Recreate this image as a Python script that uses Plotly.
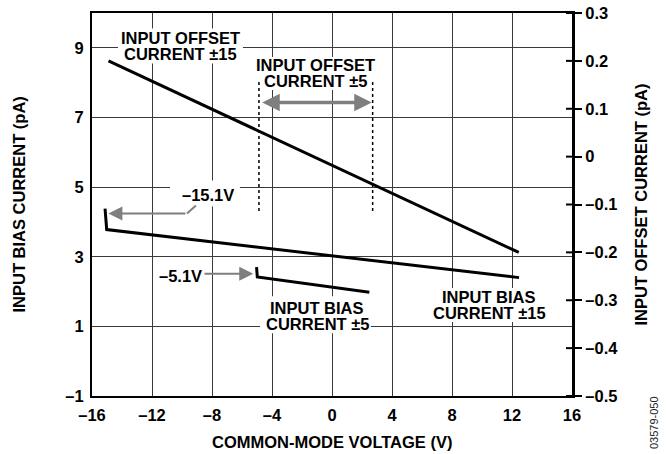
import plotly.graph_objects as go

# ---- axes ----
x_ticks = [-16, -12, -8, -4, 0, 4, 8, 12, 16]
x_ticktext = ["–16", "–12", "–8", "–4", "0", "4", "8", "12", "16"]
bias_ticks = [-1, 1, 3, 5, 7, 9]
bias_ticktext = ["–1", "1", "3", "5", "7", "9"]
offset_ticks = [-0.5, -0.4, -0.3, -0.2, -0.1, 0, 0.1, 0.2, 0.3]
offset_ticktext = ["–0.5", "–0.4", "–0.3", "–0.2", "–0.1", "0", "0.1", "0.2", "0.3"]

# ---- series ----
# Input offset current, ±15 V supply (pA, right axis)
offset15_v = [-14.9, 12.45]
offset15_i = [0.200, -0.200]
# Input bias current, ±15 V supply (pA, left axis)
bias15_v = [-15.13, -15.02, 12.47]
bias15_i = [4.38, 3.78, 2.40]
# Input bias current, ±5 V supply (pA, left axis)
bias5_v = [-5.03, -4.98, 2.49]
bias5_i = [2.70, 2.42, 1.98]
# Common-mode range marks for offset current ±5
cm5_range = [-4.87, 2.71]
cm5_dash_i = [4.31, 8.05]
cm5_arrow_i = 7.43

FONT = "Liberation Sans, Arial, sans-serif"
GRAY = "#7f7f7f"

fig = go.Figure()

fig.add_trace(go.Scatter(x=offset15_v, y=offset15_i, yaxis="y2", mode="lines",
                         line=dict(color="black", width=3), hoverinfo="skip"))
fig.add_trace(go.Scatter(x=bias15_v, y=bias15_i, mode="lines",
                         line=dict(color="black", width=3), hoverinfo="skip"))
fig.add_trace(go.Scatter(x=bias5_v, y=bias5_i, mode="lines",
                         line=dict(color="black", width=3), hoverinfo="skip"))
for xv in cm5_range:
    fig.add_trace(go.Scatter(x=[xv, xv], y=cm5_dash_i, mode="lines",
                             line=dict(color="black", width=1.5, dash="3px,3px"),
                             hoverinfo="skip"))
# leader of the -15.1V callout (diagonal part)
lead_v = [-9.07, -9.67]
lead_i = [4.47, 4.24]
fig.add_trace(go.Scatter(x=lead_v, y=lead_i, mode="lines",
                         line=dict(color=GRAY, width=2), hoverinfo="skip"))

FS = 16.5
tf = dict(family=FONT, size=FS, color="black", weight="bold")

ann = []
shapes = []

def blank(x, y, left, right, below, above):
    # white patch that hides the grid behind a label (drawn under the traces)
    shapes.append(dict(type="rect", xref="x", yref="y", layer="between",
                       xsizemode="pixel", ysizemode="pixel", xanchor=x, yanchor=y,
                       x0=-left, x1=right, y0=-below, y1=above,
                       fillcolor="white", line=dict(width=0)))

def label(x, y, lines, shift=8):
    n = len(lines)
    for k, t in enumerate(lines):
        ys = shift * (n - 1) - 2 * shift * k
        ann.append(dict(x=x, y=y, xref="x", yref="y", text=t, showarrow=False,
                        yshift=ys, font=tf))

label(-10.07, 9.04, ["<b>INPUT OFFSET</b>", "<b>CURRENT ±15</b>"])
blank(-10.07, 9.04, 63, 62, 17, 18)
label(-1.13, 8.28, ["<b>INPUT OFFSET</b>", "<b>CURRENT ±5</b>"])
blank(-1.13, 8.28, 59, 59, 17, 16)
label(-1.0, 1.29, ["<b>INPUT BIAS</b>", "<b>CURRENT ±5</b>"])
blank(-1.0, 1.29, 57, 54, 17, 20)
label(10.47, 1.615, ["<b>INPUT BIAS</b>", "<b>CURRENT ±15</b>"])
blank(10.47, 1.615, 58, 58, 17, 17)

ann.append(dict(x=-8.27, y=4.76, xref="x", yref="y", text="<b>–15.1V</b>",
                showarrow=False, font=tf))
blank(-8.27, 4.76, 38, 32, 11, 15)
ann.append(dict(x=-10.13, y=2.46, xref="x", yref="y", text="<b>–5.1V</b>",
                showarrow=False, font=tf))

# arrows
ann.append(dict(x=-14.91, y=4.24, ax=-9.67, ay=4.24, xref="x", yref="y",
                axref="x", ayref="y", text="", showarrow=True, arrowhead=2,
                arrowsize=1.4, arrowwidth=2, arrowcolor=GRAY))
ann.append(dict(x=-5.25, y=2.51, ax=-8.6, ay=2.51, xref="x", yref="y",
                axref="x", ayref="y", text="", showarrow=True, arrowhead=2,
                arrowsize=1.4, arrowwidth=2, arrowcolor=GRAY))
ann.append(dict(x=cm5_range[1] - 0.06, y=cm5_arrow_i, ax=cm5_range[0] + 0.12, ay=cm5_arrow_i,
                xref="x", yref="y", axref="x", ayref="y", text="", showarrow=True,
                arrowhead=2, startarrowhead=2, arrowside="end+start",
                arrowsize=1.0, startarrowsize=1.0, arrowwidth=3.5, arrowcolor=GRAY))

# axis titles
ann.append(dict(x=0.5, y=0, xref="paper", yref="paper", yanchor="middle",
                yshift=-46, text="<b>COMMON-MODE VOLTAGE (V)</b>", showarrow=False, font=tf))
ann.append(dict(x=0, y=0.5, xref="paper", yref="paper", xanchor="center",
                xshift=-74, textangle=-90, text="<b>INPUT BIAS CURRENT (pA)</b>",
                showarrow=False, font=tf))
ann.append(dict(x=1, y=0.5, xref="paper", yref="paper", xanchor="center",
                xshift=68, textangle=-90, text="<b>INPUT OFFSET CURRENT (pA)</b>",
                showarrow=False, font=tf))
ann.append(dict(x=1, y=0, xref="paper", yref="paper", xanchor="center", yanchor="middle",
                xshift=82, yshift=-27, textangle=-90, text="03579-050",
                showarrow=False, font=dict(family=FONT, size=11, color="#222")))

# inner halves of right-axis ticks
for t in offset_ticks:
    shapes.append(dict(type="line", xref="paper", yref="y2", xsizemode="pixel",
                       xanchor=1, x0=-6, x1=0, y0=t, y1=t,
                       line=dict(color="black", width=2)))

tickf = dict(family=FONT, size=FS, color="black", weight="bold")
fig.update_layout(
    width=666, height=454,
    margin=dict(l=92, r=94, t=13, b=58, autoexpand=False),
    paper_bgcolor="white", plot_bgcolor="white",
    showlegend=False,
    font=dict(family=FONT, size=FS, color="black"),
    annotations=ann, shapes=shapes,
    xaxis=dict(range=[-16, 16], tickvals=x_ticks, ticktext=x_ticktext,
               showgrid=True, gridcolor="#3a3a3a", gridwidth=1.3,
               showline=True, linecolor="black", linewidth=2, mirror=True,
               ticks="", zeroline=False, ticklabelstandoff=3, automargin=False,
               tickfont=tickf),
    yaxis=dict(range=[-1, 10], tickvals=bias_ticks, ticktext=bias_ticktext,
               showgrid=True, gridcolor="#3a3a3a", gridwidth=1.3,
               showline=True, linecolor="black", linewidth=2,
               ticks="", zeroline=False, ticklabelstandoff=3, automargin=False,
               tickfont=tickf),
    yaxis2=dict(range=[-0.5, 0.3], tickvals=offset_ticks, ticktext=offset_ticktext,
                overlaying="y", side="right", showgrid=False, zeroline=False,
                showline=True, linecolor="black", linewidth=3, automargin=False,
                ticks="outside", ticklen=7, tickwidth=2, tickcolor="black",
                tickfont=tickf),
)

fig.write_html("out.html", config={"displayModeBar": False},
               post_script="document.body.style.margin='0';document.body.style.overflow='hidden';")
